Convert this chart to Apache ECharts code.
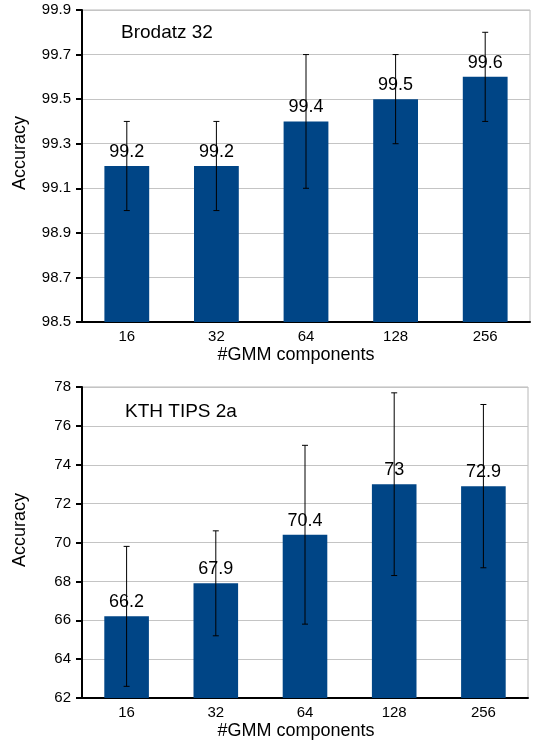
<!DOCTYPE html>
<html>
<head>
<meta charset="utf-8">
<script src="https://cdn.jsdelivr.net/npm/echarts@6/dist/echarts.min.js"></script>
<style>html,body{margin:0;padding:0;background:#fff}#c{width:536px;height:742px}</style>
</head>
<body>
<div id="c"></div>
<script>
const categories = ['16', '32', '64', '128', '256'];
const brodatzValues = [99.2, 99.2, 99.4, 99.5, 99.6];
const brodatzLow = [99.0, 99.0, 99.1, 99.3, 99.4];
const brodatzHigh = [99.4, 99.4, 99.7, 99.7, 99.8];
const kthValues = [66.2, 67.9, 70.4, 73, 72.9];
const kthLow = [62.6, 65.2, 65.8, 68.3, 68.7];
const kthHigh = [69.8, 70.6, 75.0, 77.7, 77.1];
const brodatzTicks = { min: 98.5, max: 99.9, interval: 0.2 };
const kthTicks = { min: 62, max: 78, interval: 2 };

const FONT = 'Liberation Sans, Arial, sans-serif';
const BAR = '#004586';

function errData(low, high) {
  return categories.map((c, i) => [i, low[i], high[i]]);
}
function errRender(params, api) {
  const x = api.value(0);
  const lo = api.coord([x, api.value(1)]);
  const hi = api.coord([x, api.value(2)]);
  const hw = 3;
  const st = { stroke: '#000', lineWidth: 1 };
  return {
    type: 'group',
    children: [
      { type: 'line', shape: { x1: lo[0], y1: lo[1], x2: hi[0], y2: hi[1] }, style: st },
      { type: 'line', shape: { x1: lo[0] - hw, y1: lo[1], x2: lo[0] + hw, y2: lo[1] }, style: st },
      { type: 'line', shape: { x1: hi[0] - hw, y1: hi[1], x2: hi[0] + hw, y2: hi[1] }, style: st }
    ]
  };
}
function xAxis(gi) {
  return {
    type: 'category', gridIndex: gi, data: categories,
    axisLine: { lineStyle: { color: '#000', width: 2 } },
    axisTick: { show: false },
    axisLabel: { color: '#000', fontSize: 15, fontFamily: FONT, margin: 7 },
    splitLine: { show: false }
  };
}
function yAxis(gi, t, dec) {
  return {
    type: 'value', gridIndex: gi, min: t.min, max: t.max, interval: t.interval,
    axisLine: { show: true, lineStyle: { color: '#000', width: 2 } },
    axisTick: { show: true, length: 6, lineStyle: { color: '#000', width: 2 } },
    axisLabel: { color: '#000', fontSize: 15, fontFamily: FONT, margin: 11,
      formatter: v => dec ? v.toFixed(1) : String(Math.round(v)) },
    splitLine: { show: true, lineStyle: { color: '#c4c4c4', width: 1 } }
  };
}
const chart = echarts.init(document.getElementById('c'), null, { renderer: 'canvas' });
chart.setOption({
  animation: false,
  backgroundColor: '#fff',
  grid: [
    { left: 82, right: 6, top: 10, bottom: 420, show: true, borderColor: '#b8b8b8', borderWidth: 1, backgroundColor: 'transparent' },
    { left: 82, right: 8, top: 387, bottom: 44, show: true, borderColor: '#b8b8b8', borderWidth: 1, backgroundColor: 'transparent' }
  ],
  title: [
    { text: 'Brodatz 32', left: 116, top: 18, textStyle: { fontSize: 19, fontWeight: 'normal', color: '#000', fontFamily: FONT } },
    { text: 'KTH TIPS 2a', left: 120, top: 397, textStyle: { fontSize: 19, fontWeight: 'normal', color: '#000', fontFamily: FONT } }
  ],
  xAxis: [xAxis(0), xAxis(1)],
  yAxis: [yAxis(0, brodatzTicks, true), yAxis(1, kthTicks, false)],
  graphic: [
    { type: 'text', x: 20, y: 153, rotation: Math.PI / 2, style: { text: 'Accuracy', fontSize: 18, fontFamily: FONT, fill: '#000', align: 'center', verticalAlign: 'middle' } },
    { type: 'text', x: 20, y: 530, rotation: Math.PI / 2, style: { text: 'Accuracy', fontSize: 18, fontFamily: FONT, fill: '#000', align: 'center', verticalAlign: 'middle' } },
    { type: 'text', x: 296, y: 355, style: { text: '#GMM components', fontSize: 18, fontFamily: FONT, fill: '#000', align: 'center', verticalAlign: 'middle' } },
    { type: 'text', x: 296, y: 731, style: { text: '#GMM components', fontSize: 18, fontFamily: FONT, fill: '#000', align: 'center', verticalAlign: 'middle' } }
  ],
  series: [
    { type: 'bar', xAxisIndex: 0, yAxisIndex: 0, data: brodatzValues, barWidth: '50%',
      itemStyle: { color: BAR },
      label: { show: true, position: 'top', distance: 5, fontSize: 18, fontFamily: FONT, color: '#000' } },
    { type: 'custom', xAxisIndex: 0, yAxisIndex: 0, data: errData(brodatzLow, brodatzHigh), renderItem: errRender, z: 10 },
    { type: 'bar', xAxisIndex: 1, yAxisIndex: 1, data: kthValues, barWidth: '50%',
      itemStyle: { color: BAR },
      label: { show: true, position: 'top', distance: 5, fontSize: 18, fontFamily: FONT, color: '#000' } },
    { type: 'custom', xAxisIndex: 1, yAxisIndex: 1, data: errData(kthLow, kthHigh), renderItem: errRender, z: 10 }
  ]
});
</script>
</body>
</html>
